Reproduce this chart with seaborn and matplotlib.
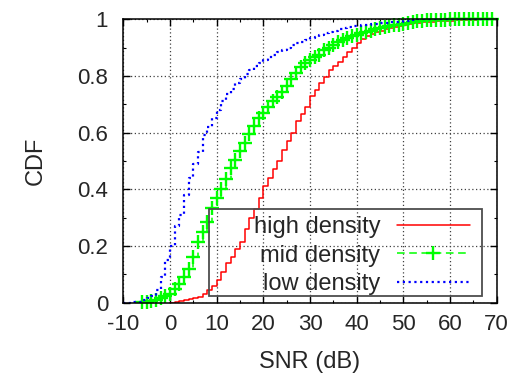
import numpy as np
import pandas as pd
import matplotlib
matplotlib.use("Agg")
import matplotlib.pyplot as plt
from matplotlib.patches import Rectangle
import seaborn as sns

# ===============================
# DATA (CDF, 1 dB bins)
# ===============================

snr_high = list(range(0, 70))
cdf_high = [0.0, 0.003, 0.006, 0.01, 0.013, 0.017, 0.021, 0.03, 0.045, 0.06,
            0.08, 0.11, 0.14, 0.16, 0.19, 0.215, 0.26, 0.30, 0.33, 0.37,
            0.41, 0.44, 0.47, 0.50, 0.54, 0.57, 0.60, 0.64, 0.665, 0.69,
            0.73, 0.75, 0.775, 0.795, 0.82, 0.835, 0.85, 0.865, 0.885, 0.90,
            0.915, 0.93, 0.94, 0.948, 0.955, 0.96, 0.965, 0.97, 0.973, 0.976,
            0.98, 0.983, 0.985, 0.987, 0.989, 0.99, 0.991, 0.992, 0.993, 0.994,
            0.995, 0.996, 0.997, 0.997, 0.998, 0.998, 0.999, 0.999, 1.0, 1.0]

snr_mid = list(range(-6, 70))
cdf_mid = [0.002, 0.004, 0.006, 0.01, 0.015, 0.022,
           0.03, 0.047, 0.065, 0.09, 0.12, 0.16, 0.215, 0.25, 0.285, 0.335,
           0.37, 0.40, 0.435, 0.475, 0.505, 0.535, 0.565, 0.595, 0.625, 0.65,
           0.67, 0.69, 0.71, 0.725, 0.745, 0.765, 0.79, 0.81, 0.83, 0.845,
           0.855, 0.865, 0.875, 0.89, 0.90, 0.91, 0.918, 0.925, 0.933, 0.94,
           0.945, 0.95, 0.955, 0.96, 0.964, 0.968, 0.972, 0.975, 0.978, 0.98,
           0.983, 0.987, 0.99, 0.993, 0.995, 0.996, 0.997, 0.997, 0.998, 0.998,
           0.999, 0.999, 0.999, 1.0, 1.0, 1.0, 1.0, 1.0, 1.0, 1.0]

snr_low = list(range(-10, 70))
cdf_low = [0.0, 0.0, 0.002, 0.004, 0.008, 0.015, 0.025, 0.045, 0.09, 0.15,
           0.20, 0.27, 0.31, 0.38, 0.44, 0.49, 0.53, 0.59, 0.62, 0.65,
           0.68, 0.71, 0.735, 0.755, 0.775, 0.79, 0.805, 0.82, 0.835, 0.845,
           0.855, 0.865, 0.875, 0.885, 0.893, 0.90, 0.908, 0.915, 0.92, 0.925,
           0.932, 0.938, 0.944, 0.95, 0.955, 0.96, 0.965, 0.968, 0.972, 0.975,
           0.977, 0.979, 0.98, 0.982, 0.984, 0.986, 0.988, 0.989, 0.99, 0.991,
           0.993, 0.995, 0.997, 0.999, 1.0, 1.0, 1.0, 1.0, 1.0, 1.0,
           1.0, 1.0, 1.0, 1.0, 1.0, 1.0, 1.0, 1.0, 1.0, 1.0]

x_ticks = [-10, 0, 10, 20, 30, 40, 50, 60, 70]
y_ticks = [0, 0.2, 0.4, 0.6, 0.8, 1]
y_tick_labels = ["0", "0.2", "0.4", "0.6", "0.8", "1"]

# ===============================
# STYLE
# ===============================

sns.set_style("ticks")
plt.rcParams["font.family"] = ["Liberation Sans", "DejaVu Sans"]
plt.rcParams["axes.unicode_minus"] = False

fig = plt.figure(figsize=(5.19, 3.79), dpi=100)
ax = fig.add_axes([0.2376, 0.2013, 0.7195, 0.7480])

# ===============================
# PLOT
# ===============================

sns.lineplot(x=snr_high, y=cdf_high, ax=ax, color="#ff0000", lw=1.1,
             drawstyle="steps-post", label="high density", sort=False)
sns.lineplot(x=snr_mid, y=cdf_mid, ax=ax, color="#00ff00", lw=1.1,
             linestyle=(0, (5, 3)), marker="+", markersize=10.5,
             markeredgewidth=1.7, markeredgecolor="#00ff00",
             drawstyle="steps-post", label="mid density", sort=False,
             clip_on=False)
sns.lineplot(x=snr_low, y=cdf_low, ax=ax, color="#0000ff", lw=1.6,
             linestyle=(0, (1, 1.6)), drawstyle="steps-post",
             label="low density", sort=False)

ax.set_xlim(-10, 70)
ax.set_ylim(0, 1)
ax.set_xticks(x_ticks)
ax.set_xticks(np.arange(-10, 71, 5), minor=True)
ax.set_yticks(y_ticks)
ax.set_yticklabels(y_tick_labels)
ax.set_yticks(np.arange(0, 1.01, 0.1), minor=True)

ax.grid(True, which="major", color="0.25", linestyle=(0, (1, 2)), lw=0.9)
ax.tick_params(which="both", direction="in", top=True, right=True,
               labelsize=16, color="black")
ax.tick_params(which="major", length=5, width=1)
ax.tick_params(which="minor", length=2.5, width=0.8)
ax.tick_params(axis="y", pad=11)
ax.tick_params(axis="x", pad=8)
for s in ax.spines.values():
    s.set_linewidth(1.1)
    s.set_color("black")

ax.set_xlabel("SNR (dB)", fontsize=17)
ax.set_ylabel("CDF", fontsize=17)
ax.xaxis.set_label_coords(0.5, -0.17)
ax.yaxis.set_label_coords(-0.205, 0.5)

# gnuplot-like key: text right-aligned before the sample, wide box
leg = ax.legend(loc="lower right", bbox_to_anchor=(0.9285, 0.026),
                borderaxespad=0, markerfirst=False, fontsize=17,
                handlelength=3.1, handletextpad=0.7, labelspacing=0.28,
                borderpad=0, frameon=False)
ax.add_patch(Rectangle((0.2295, 0.0236), 0.7311, 0.3069,
                       transform=ax.transAxes, fill=False,
                       edgecolor="0.3", lw=1.3, zorder=5))

plt.savefig("out.png", dpi=100)
plt.close()
